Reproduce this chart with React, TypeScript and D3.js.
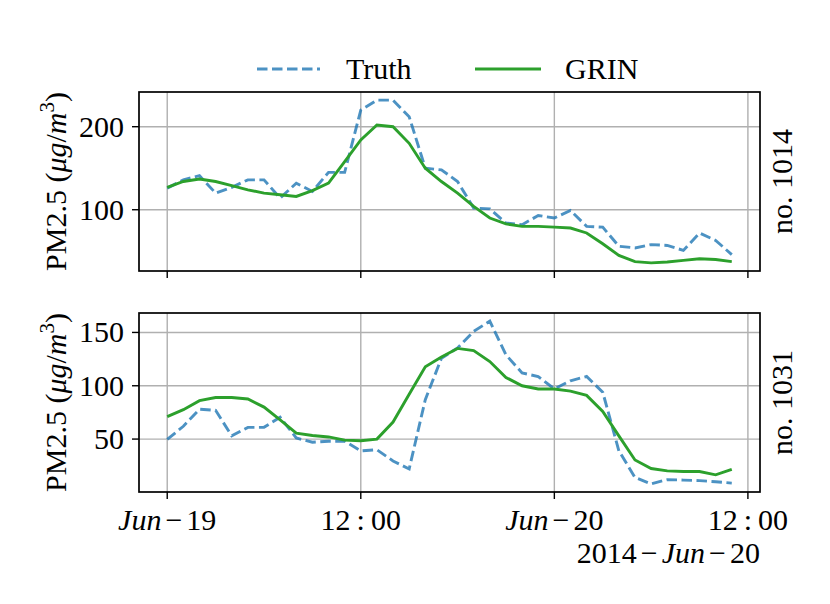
import React, { useRef, useEffect } from "react";
import { select, scaleLinear, line, extent } from "d3";

// hours since 2014-06-19 00:00
const hours = Array.from({ length: 36 }, (_, i) => i);

// station no. 1014
const truthTop = [
  126, 136, 141, 120, 127, 136, 136, 114, 132, 122, 145, 145, 220, 232, 232,
  212, 150, 148, 134, 102, 101, 84, 82, 93, 90, 99, 80, 79, 56, 54, 58, 57, 51,
  72, 63, 46,
];
const grinTop = [
  127, 134, 137, 134, 129, 124, 120, 118, 116, 123, 132, 158, 184, 202, 200,
  180, 150, 134, 120, 104, 90, 83, 80, 80, 79, 78, 72, 59, 45, 37.5, 36, 37, 39,
  41, 40, 37.5,
];

// station no. 1031
const truthBottom = [
  49.7, 62, 78, 77, 53, 61, 61, 70.5, 51, 47, 48, 48, 39, 40, 29.5, 22, 87,
  125.8, 135.5, 151, 160.6, 129, 112, 108.7, 97, 104.7, 108.7, 94, 39, 14, 8,
  12, 11.5, 11, 10, 8.7,
];
const grinBottom = [
  71, 77.6, 86, 89, 89, 87.6, 80, 68, 55.6, 53.4, 52, 49, 48.5, 50, 66, 92,
  117.7, 127, 135, 133, 122.7, 107.8, 100, 97, 97, 95, 91, 76, 53, 30.4, 22.4,
  20.2, 19.6, 19.6, 16.5, 21.7,
];

const xTicks = [0, 12, 24, 36];
const yTicksTop = [100, 200];
const yTicksBottom = [50, 100, 150];
const stations = ["no. 1014", "no. 1031"];
const seriesNames = ["Truth", "GRIN"];

const WIDTH = 830;
const HEIGHT = 604;
const FONT = "'Liberation Serif', 'Times New Roman', serif";
const colors = { truth: "#1f77b4", grin: "#2ca02c" };
const LW = 2.9;
const DASH = "10.5,4.5";

const App: React.FC = () => {
  const svgRef = useRef<SVGSVGElement>(null);

  useEffect(() => {
    document.body.style.margin = "0";
    const svg = select(svgRef.current);
    svg.selectAll("*").remove();

    const left = 139;
    const right = 760;
    const x = scaleLinear().domain([-1.75, 36.75]).range([left, right]);

    const panels = [
      { top: 92, bottom: 271, truth: truthTop, grin: grinTop, ticks: yTicksTop, name: stations[0] },
      { top: 313, bottom: 492, truth: truthBottom, grin: grinBottom, ticks: yTicksBottom, name: stations[1] },
    ];

    panels.forEach((p, pi) => {
      const [lo, hi] = extent([...p.truth, ...p.grin]) as [number, number];
      const pad = (hi - lo) * 0.05;
      const y = scaleLinear().domain([lo - pad, hi + pad]).range([p.bottom, p.top]);

      const g = svg.append("g");

      // grid
      g.selectAll("line.vgrid")
        .data(xTicks)
        .join("line")
        .attr("x1", (d) => x(d))
        .attr("x2", (d) => x(d))
        .attr("y1", p.top)
        .attr("y2", p.bottom)
        .attr("stroke", "#b0b0b0")
        .attr("stroke-width", 1.4);
      g.selectAll("line.hgrid")
        .data(p.ticks)
        .join("line")
        .attr("class", "hgrid")
        .attr("x1", left)
        .attr("x2", right)
        .attr("y1", (d) => y(d))
        .attr("y2", (d) => y(d))
        .attr("stroke", "#b0b0b0")
        .attr("stroke-width", 1.4);

      // clip
      const clipId = `clip-${pi}`;
      svg
        .append("clipPath")
        .attr("id", clipId)
        .append("rect")
        .attr("x", left)
        .attr("y", p.top)
        .attr("width", right - left)
        .attr("height", p.bottom - p.top);

      const path = line<number>()
        .x((_, i) => x(hours[i]))
        .y((d) => y(d));

      const lines = g.append("g").attr("clip-path", `url(#${clipId})`);
      lines
        .append("path")
        .attr("d", path(p.truth))
        .attr("fill", "none")
        .attr("stroke", colors.truth)
        .attr("stroke-opacity", 0.8)
        .attr("stroke-width", LW)
        .attr("stroke-dasharray", DASH);
      lines
        .append("path")
        .attr("d", path(p.grin))
        .attr("fill", "none")
        .attr("stroke", colors.grin)
        .attr("stroke-width", LW);

      // spines
      g.append("rect")
        .attr("x", left)
        .attr("y", p.top)
        .attr("width", right - left)
        .attr("height", p.bottom - p.top)
        .attr("fill", "none")
        .attr("stroke", "#000")
        .attr("stroke-width", 1.7);

      // ticks
      g.selectAll("line.xtick")
        .data(xTicks)
        .join("line")
        .attr("x1", (d) => x(d))
        .attr("x2", (d) => x(d))
        .attr("y1", p.bottom)
        .attr("y2", p.bottom + 7)
        .attr("stroke", "#000")
        .attr("stroke-width", 1.4);
      g.selectAll("line.ytick")
        .data(p.ticks)
        .join("line")
        .attr("class", "ytick")
        .attr("x1", left - 7)
        .attr("x2", left)
        .attr("y1", (d) => y(d))
        .attr("y2", (d) => y(d))
        .attr("stroke", "#000")
        .attr("stroke-width", 1.4);
      g.selectAll("text.ylab")
        .data(p.ticks)
        .join("text")
        .attr("class", "ylab")
        .attr("x", left - 15)
        .attr("y", (d) => y(d) + 10)
        .attr("text-anchor", "end")
        .style("font-family", FONT)
        .style("font-size", "30px")
        .text((d) => String(d));

      // y axis label
      const mid = (p.top + p.bottom) / 2;
      const yl = g
        .append("text")
        .attr("transform", `translate(66,${mid}) rotate(-90)`)
        .attr("text-anchor", "middle")
        .style("font-family", FONT)
        .style("font-size", "30px");
      yl.append("tspan").text("PM2.5 (");
      yl.append("tspan").style("font-style", "italic").text("μg");
      yl.append("tspan").text("/");
      yl.append("tspan").style("font-style", "italic").text("m");
      yl.append("tspan").attr("dy", -12).style("font-size", "21px").text("3");
      yl.append("tspan").attr("dy", 12).text(")");

      // station label
      g.append("text")
        .attr("transform", `translate(792,${mid}) rotate(-90)`)
        .attr("text-anchor", "middle")
        .style("font-family", FONT)
        .style("font-size", "30px")
        .text(p.name);
    });

    // x tick labels (bottom panel only)
    const xLabels: [string, string, string][] = [
      ["Jun", "−", "19"],
      ["12", ":", "00"],
      ["Jun", "−", "20"],
      ["12", ":", "00"],
    ];
    xTicks.forEach((t, i) => {
      const [a, b, c] = xLabels[i];
      const gap = a === "Jun" ? 4 : 6;
      const tx = svg
        .append("text")
        .attr("x", x(t))
        .attr("y", 530)
        .attr("text-anchor", "middle")
        .style("font-family", FONT)
        .style("font-size", "30px");
      tx.append("tspan").style("font-style", a === "Jun" ? "italic" : "normal").text(a);
      tx.append("tspan").attr("dx", gap).text(b);
      tx.append("tspan").attr("dx", gap).text(c);
    });
    const off = svg
      .append("text")
      .attr("x", right)
      .attr("y", 563)
      .attr("text-anchor", "end")
      .style("font-family", FONT)
      .style("font-size", "30px");
    off.append("tspan").text("2014");
    off.append("tspan").attr("dx", 4).text("−");
    off.append("tspan").attr("dx", 4).style("font-style", "italic").text("Jun");
    off.append("tspan").attr("dx", 4).text("−");
    off.append("tspan").attr("dx", 4).text("20");

    // legend
    const legend = [
      { label: seriesNames[0], color: colors.truth, dash: DASH, opacity: 0.8, x0: 257, x1: 320, tx: 346 },
      { label: seriesNames[1], color: colors.grin, dash: null, opacity: 1, x0: 475, x1: 541, tx: 565 },
    ];
    legend.forEach((l) => {
      svg
        .append("line")
        .attr("x1", l.x0)
        .attr("x2", l.x1)
        .attr("y1", 69)
        .attr("y2", 69)
        .attr("stroke", l.color)
        .attr("stroke-opacity", l.opacity)
        .attr("stroke-width", LW)
        .attr("stroke-dasharray", l.dash);
      svg
        .append("text")
        .attr("x", l.tx)
        .attr("y", 79)
        .style("font-family", FONT)
        .style("font-size", "30px")
        .text(l.label);
    });
  }, []);

  return (
    <div style={{ width: WIDTH, height: HEIGHT }}>
      <svg ref={svgRef} width={WIDTH} height={HEIGHT} style={{ display: "block", background: "#fff" }} />
    </div>
  );
};

export default App;
